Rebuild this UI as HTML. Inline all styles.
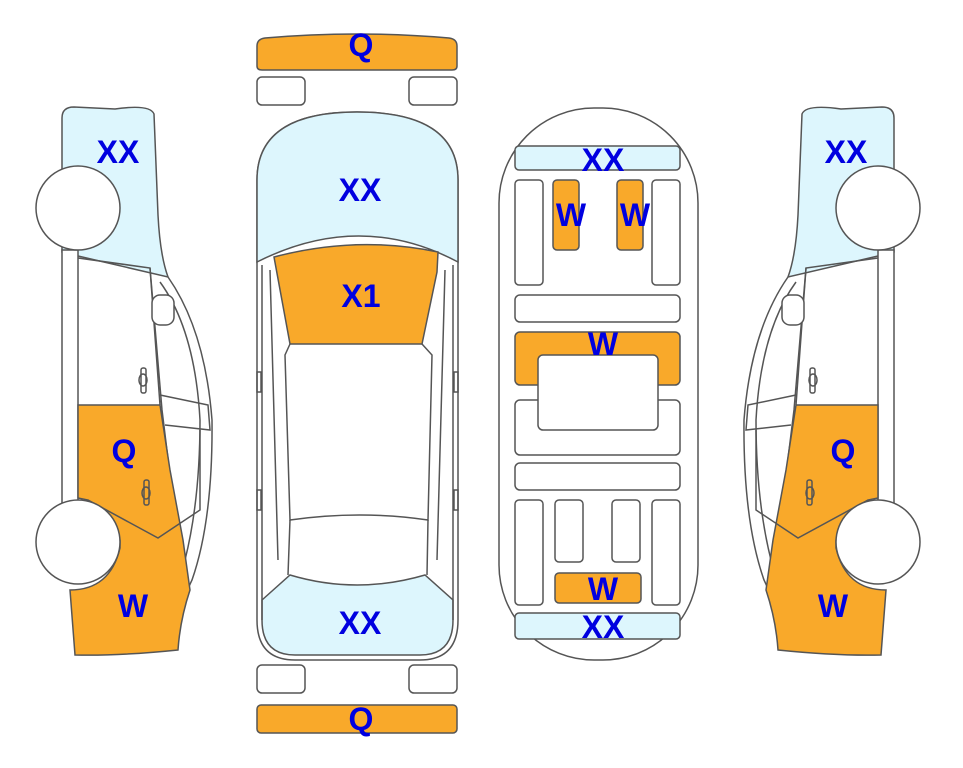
<!DOCTYPE html>
<html><head><style>html,body{margin:0;padding:0;background:#fff}svg{display:block}
text{font-family:"Liberation Sans",sans-serif;font-weight:bold;font-size:32px;fill:#0000e0;text-anchor:middle}</style></head>
<body>
<svg width="963" height="768" viewBox="0 0 963 768" xmlns="http://www.w3.org/2000/svg">
<defs>
<g id="side" stroke="#555" stroke-width="1.5" fill="none">
  <path d="M62,118 Q62,107 74,107 L115,109 Q150,104 154,114 L158,215 Q160,255 168,277 L78,256 L62,252 Z" fill="#ddf6fd"/>
  <path d="M168,277 Q205,330 212,420 Q213,520 192,580 L185,595" />
  <path d="M160,282 Q195,330 200,420 Q200,500 185,560"/>
  <rect x="62" y="250" width="16" height="255" fill="#fff"/>
  <path d="M78,258 L150,268 L160,405"/>
  <path d="M150,268 L162,410 L178,540"/>
  <rect x="152" y="295" width="22" height="30" rx="8" fill="#fff"/>
  <path d="M160,395 L208,405 L210,430 L165,425"/>
  <path d="M78,405 L160,405 L170,470 L183,540 L190,590 Q180,620 178,650 Q120,656 75,655 L70,590 Q110,590 120,548 L120,540 L88,500 L78,498 Z" fill="#f9a92a"/>
  <path d="M88,500 L158,538 L200,510 L200,430"/>
  <rect x="141" y="368" width="5" height="25" rx="2"/>
  <ellipse cx="143" cy="380" rx="4" ry="6"/>
  <rect x="144" y="480" width="5" height="25" rx="2"/>
  <ellipse cx="146" cy="493" rx="4" ry="6"/>
  <circle cx="78" cy="208" r="42" fill="#fff"/>
  <circle cx="78" cy="542" r="42" fill="#fff"/>
</g>
</defs>
<use href="#side"/>
<use href="#side" transform="translate(956,0) scale(-1,1)"/>

<g stroke="#555" stroke-width="1.5" fill="none">
  <path d="M257,46 Q257,39 265,38 Q357,30 449,38 Q457,39 457,46 L457,66 Q457,70 452,70 L262,70 Q257,70 257,66 Z" fill="#f9a92a"/>
  <rect x="257" y="77" width="48" height="28" rx="5" fill="#fff"/>
  <rect x="409" y="77" width="48" height="28" rx="5" fill="#fff"/>
  <rect x="257" y="665" width="48" height="28" rx="5" fill="#fff"/>
  <rect x="409" y="665" width="48" height="28" rx="5" fill="#fff"/>
  <rect x="257" y="705" width="200" height="28" rx="4" fill="#f9a92a"/>
  <path d="M257,180 Q257,112 357,112 Q458,112 458,180 L458,620 Q458,660 420,660 L295,660 Q257,660 257,620 Z" fill="#fff"/>
  <path d="M257,180 Q257,112 357,112 Q458,112 458,180 L458,262 Q360,210 257,262 Z" fill="#ddf6fd"/>
  <path d="M274,257 Q357,235 438,252 L437,272 L422,344 L290,344 Z" fill="#f9a92a"/>
  <path d="M290,344 L285,355 L290,520 Q360,510 428,520 L432,355 L422,344"/>
  <path d="M262,600 L290,575 Q357,595 425,575 L453,600 L453,620 Q453,655 420,655 L295,655 Q262,655 262,620 Z" fill="#ddf6fd"/>
  <path d="M290,520 L288,575 M428,520 L427,575"/>
  <path d="M262,265 L262,620 M270,270 L278,560 M453,265 L453,620 M445,270 L437,560"/>
  <rect x="257" y="372" width="4" height="20"/><rect x="454" y="372" width="4" height="20"/>
  <rect x="257" y="490" width="4" height="20"/><rect x="454" y="490" width="4" height="20"/>
</g>

<g stroke="#555" stroke-width="1.5" fill="#fff">
  <rect x="499" y="108" width="199" height="552" rx="95" ry="95"/>
  <rect x="515" y="146" width="165" height="24" rx="4" fill="#ddf6fd"/>
  <rect x="515" y="180" width="28" height="105" rx="4"/>
  <rect x="652" y="180" width="28" height="105" rx="4"/>
  <rect x="553" y="180" width="26" height="70" rx="4" fill="#f9a92a"/>
  <rect x="617" y="180" width="26" height="70" rx="4" fill="#f9a92a"/>
  <rect x="515" y="295" width="165" height="27" rx="5"/>
  <rect x="515" y="400" width="165" height="55" rx="5"/>
  <rect x="515" y="332" width="165" height="53" rx="5" fill="#f9a92a"/>
  <rect x="538" y="355" width="120" height="75" rx="5"/>
  <rect x="515" y="463" width="165" height="27" rx="5"/>
  <rect x="515" y="500" width="28" height="105" rx="4"/>
  <rect x="652" y="500" width="28" height="105" rx="4"/>
  <rect x="555" y="500" width="28" height="62" rx="4"/>
  <rect x="612" y="500" width="28" height="62" rx="4"/>
  <rect x="555" y="573" width="86" height="30" rx="4" fill="#f9a92a"/>
  <rect x="515" y="613" width="165" height="26" rx="4" fill="#ddf6fd"/>
</g>

<text x="118" y="163">XX</text>
<text x="124" y="462">Q</text>
<text x="133" y="617">W</text>
<text x="846" y="163">XX</text>
<text x="843" y="462">Q</text>
<text x="833" y="617">W</text>
<text x="361" y="56">Q</text>
<text x="361" y="730">Q</text>
<text x="360" y="201">XX</text>
<text x="361" y="307">X1</text>
<text x="360" y="634">XX</text>
<text x="603" y="171">XX</text>
<text x="571" y="226">W</text>
<text x="635" y="226">W</text>
<text x="603" y="355">W</text>
<text x="603" y="600">W</text>
<text x="603" y="638">XX</text>
</svg>
</body></html>
